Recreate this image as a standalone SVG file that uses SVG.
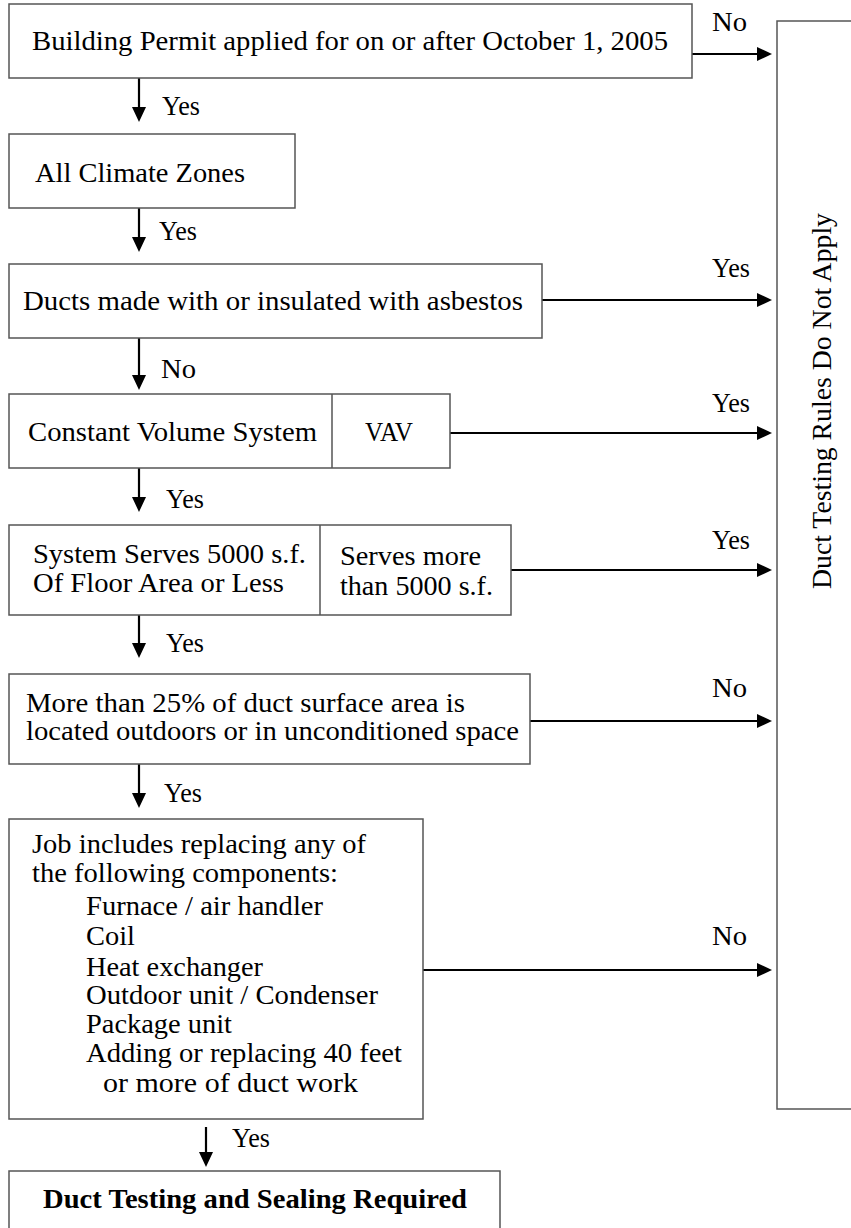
<svg xmlns="http://www.w3.org/2000/svg" width="851" height="1228" viewBox="0 0 851 1228">
<style>
.box{fill:#fff;stroke:#555;stroke-width:1.5}
.div{stroke:#555;stroke-width:1.5}
.t{font-family:'Liberation Serif','Times New Roman',Tinos,'DejaVu Serif','Noto Serif',serif;font-size:28px;fill:#000}
.b{font-weight:bold}
.c{stroke:#000;stroke-width:2.2;fill:none;marker-end:url(#ah)}
</style>
<defs>
<marker id="ah" viewBox="0 0 15 14" refX="5" refY="7" markerWidth="15" markerHeight="14" markerUnits="userSpaceOnUse" orient="auto">
<path d="M0,0 L15,7 L0,14 Z" fill="#000"/>
</marker>
</defs>
<rect width="851" height="1228" fill="#fff"/>

<g id="connectors">
<line class="c" x1="692" y1="54" x2="762" y2="54"/>
<line class="c" x1="139" y1="78" x2="139" y2="112"/>
<line class="c" x1="139" y1="208" x2="139" y2="242"/>
<line class="c" x1="542" y1="300" x2="762" y2="300"/>
<line class="c" x1="139" y1="338" x2="139" y2="380"/>
<line class="c" x1="450" y1="433" x2="762" y2="433"/>
<line class="c" x1="139" y1="468" x2="139" y2="502"/>
<line class="c" x1="511" y1="570" x2="762" y2="570"/>
<line class="c" x1="139" y1="615" x2="139" y2="648"/>
<line class="c" x1="530" y1="721" x2="762" y2="721"/>
<line class="c" x1="139" y1="764" x2="139" y2="798"/>
<line class="c" x1="423" y1="970" x2="762" y2="970"/>
<line class="c" x1="206" y1="1127" x2="206" y2="1157"/>
<text class="t" x="712" y="31" textLength="35" lengthAdjust="spacingAndGlyphs">No</text>
<text class="t" x="162" y="115" textLength="38" lengthAdjust="spacingAndGlyphs">Yes</text>
<text class="t" x="159" y="240" textLength="38" lengthAdjust="spacingAndGlyphs">Yes</text>
<text class="t" x="712" y="277" textLength="38" lengthAdjust="spacingAndGlyphs">Yes</text>
<text class="t" x="161" y="378" textLength="35" lengthAdjust="spacingAndGlyphs">No</text>
<text class="t" x="712" y="412" textLength="38" lengthAdjust="spacingAndGlyphs">Yes</text>
<text class="t" x="166" y="508" textLength="38" lengthAdjust="spacingAndGlyphs">Yes</text>
<text class="t" x="712" y="549" textLength="38" lengthAdjust="spacingAndGlyphs">Yes</text>
<text class="t" x="166" y="652" textLength="38" lengthAdjust="spacingAndGlyphs">Yes</text>
<text class="t" x="712" y="697" textLength="35" lengthAdjust="spacingAndGlyphs">No</text>
<text class="t" x="164" y="802" textLength="38" lengthAdjust="spacingAndGlyphs">Yes</text>
<text class="t" x="712" y="945" textLength="35" lengthAdjust="spacingAndGlyphs">No</text>
<text class="t" x="232" y="1147" textLength="38" lengthAdjust="spacingAndGlyphs">Yes</text>
</g>

<g id="n-permit">
<rect class="box" x="9" y="4" width="683" height="74"/>
<text class="t" x="32" y="50" textLength="636" lengthAdjust="spacingAndGlyphs">Building Permit applied for on or after October 1, 2005</text>
</g>

<g id="n-climate">
<rect class="box" x="9" y="134" width="286" height="74"/>
<text class="t" x="35" y="182" textLength="210" lengthAdjust="spacingAndGlyphs">All Climate Zones</text>
</g>

<g id="n-asbestos">
<rect class="box" x="9" y="264" width="533" height="74"/>
<text class="t" x="23" y="310" textLength="500" lengthAdjust="spacingAndGlyphs">Ducts made with or insulated with asbestos</text>
</g>

<g id="n-volume">
<rect class="box" x="9" y="394" width="441" height="74"/>
<line class="div" x1="332" y1="394" x2="332" y2="468"/>
<text class="t" x="28" y="441" textLength="289" lengthAdjust="spacingAndGlyphs">Constant Volume System</text>
<text class="t" x="365" y="441" textLength="48" lengthAdjust="spacingAndGlyphs">VAV</text>
</g>

<g id="n-area">
<rect class="box" x="9" y="525" width="502" height="90"/>
<line class="div" x1="320" y1="525" x2="320" y2="615"/>
<text class="t" x="33" y="563" textLength="273" lengthAdjust="spacingAndGlyphs">System Serves 5000 s.f.</text>
<text class="t" x="33" y="592" textLength="251" lengthAdjust="spacingAndGlyphs">Of Floor Area or Less</text>
<text class="t" x="340" y="565" textLength="141" lengthAdjust="spacingAndGlyphs">Serves more</text>
<text class="t" x="340" y="595" textLength="153" lengthAdjust="spacingAndGlyphs">than 5000 s.f.</text>
</g>

<g id="n-outdoor">
<rect class="box" x="9" y="674" width="521" height="90"/>
<text class="t" x="26" y="712" textLength="439" lengthAdjust="spacingAndGlyphs">More than 25% of duct surface area is</text>
<text class="t" x="26" y="740" textLength="493" lengthAdjust="spacingAndGlyphs">located outdoors or in unconditioned space</text>
</g>

<g id="n-job">
<rect class="box" x="9" y="819" width="414" height="300"/>
<text class="t" x="32" y="853" textLength="334" lengthAdjust="spacingAndGlyphs">Job includes replacing any of</text>
<text class="t" x="32" y="882" textLength="306" lengthAdjust="spacingAndGlyphs">the following components:</text>
<text class="t" x="86" y="915" textLength="237" lengthAdjust="spacingAndGlyphs">Furnace / air handler</text>
<text class="t" x="86" y="945" textLength="49" lengthAdjust="spacingAndGlyphs">Coil</text>
<text class="t" x="86" y="976" textLength="177" lengthAdjust="spacingAndGlyphs">Heat exchanger</text>
<text class="t" x="86" y="1004" textLength="292" lengthAdjust="spacingAndGlyphs">Outdoor unit / Condenser</text>
<text class="t" x="86" y="1033" textLength="146" lengthAdjust="spacingAndGlyphs">Package unit</text>
<text class="t" x="86" y="1062" textLength="316" lengthAdjust="spacingAndGlyphs">Adding or replacing 40 feet</text>
<text class="t" x="103" y="1092" textLength="255" lengthAdjust="spacingAndGlyphs">or more of duct work</text>
</g>

<g id="n-required">
<rect class="box" x="9" y="1171" width="491" height="80"/>
<text class="t b" x="43" y="1208" textLength="424" lengthAdjust="spacingAndGlyphs">Duct Testing and Sealing Required</text>
</g>

<g id="n-notapply">
<rect class="box" x="777" y="21" width="100" height="1088"/>
<text class="t" transform="translate(831,401) rotate(-90)" x="0" y="0" text-anchor="middle" textLength="376" lengthAdjust="spacingAndGlyphs">Duct Testing Rules Do Not Apply</text>
</g>
</svg>
